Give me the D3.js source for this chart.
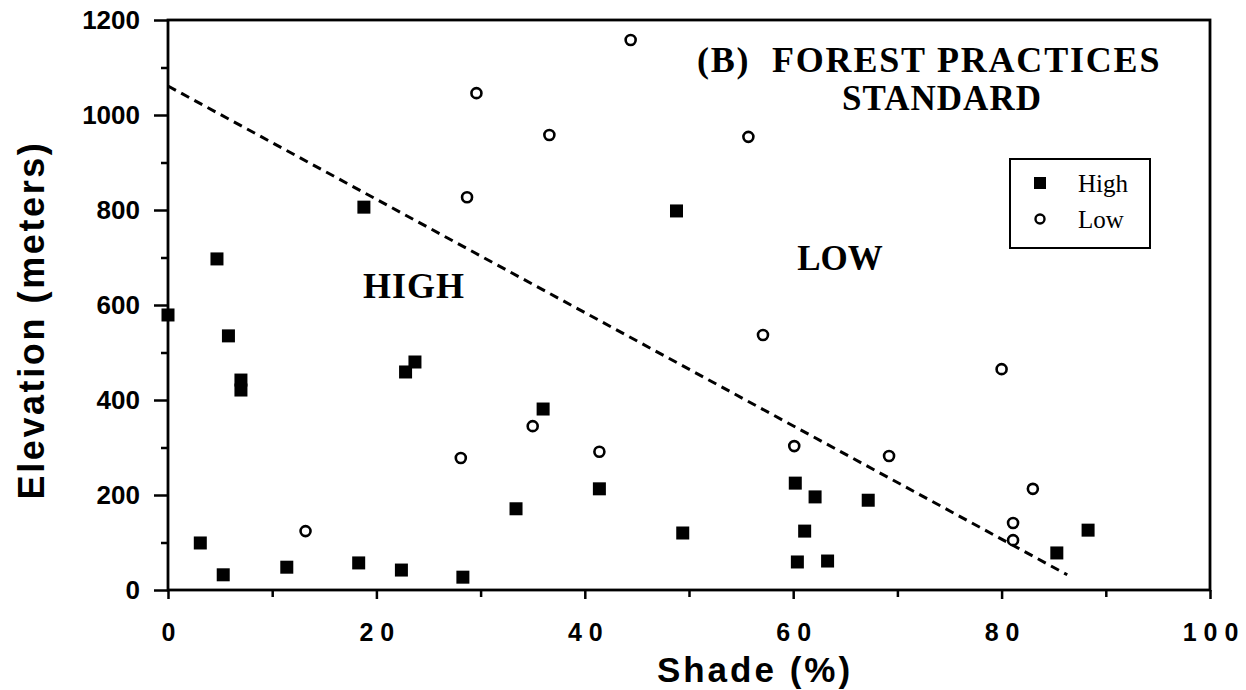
<!DOCTYPE html>
<html><head><meta charset="utf-8">
<script src="https://cdn.jsdelivr.net/npm/d3@7"></script>
<style>
body{margin:0;background:#fff;}
svg{display:block;}
.axis path{display:none;}
.axis line{stroke:#000;stroke-width:2.5px;}
</style></head>
<body><svg id="c" width="1246" height="690"></svg>
<script>
// ---- data ----
const highShade = [0, 4.7, 5.8, 7.0, 7.0, 3.1, 5.3, 11.4, 18.3, 22.4, 28.3, 18.8, 22.8, 23.7, 33.4, 36.0, 41.4, 49.4, 48.8, 60.2, 62.1, 61.1, 60.4, 63.3, 67.2, 85.3, 88.3];
const highElev  = [579, 697, 535, 442, 421, 99, 32, 48, 57, 42, 27, 806, 459, 480, 171, 381, 213, 120, 798, 225, 196, 124, 59, 61, 189, 78, 126];
const lowShade  = [13.2, 28.1, 28.7, 29.6, 36.6, 44.4, 35.0, 41.4, 55.7, 57.1, 60.1, 69.2, 80.0, 83.0, 81.1, 81.1];
const lowElev   = [124, 278, 827, 1046, 958, 1158, 345, 291, 954, 537, 303, 282, 465, 213, 141, 105];
const lineShade = [0, 86.3];
const lineElev  = [1061, 32];
const xTicks = [0, 20, 40, 60, 80, 100];
const xMinor = [10, 30, 50, 70, 90];
const yTicks = [0, 200, 400, 600, 800, 1000, 1200];
const yMinor = [100, 300, 500, 700, 900, 1100];
const legendLabels = ["High", "Low"];

// ---- layout ----
const svg = d3.select("#c");
const L = 168, R = 1210, T = 20, B = 590;
const x = d3.scaleLinear().domain([0, 100]).range([L, R]);
const y = d3.scaleLinear().domain([0, 1200]).range([B, T]);
const sans = "Arial, 'Liberation Sans', sans-serif";
const serif = "'Times New Roman', 'Liberation Serif', serif";

// frame
svg.append("rect").attr("x", L).attr("y", T).attr("width", R - L).attr("height", B - T)
  .attr("fill", "none").attr("stroke", "#000").attr("stroke-width", 2.8);

// y axis
const ya = svg.append("g").attr("class", "axis").attr("transform", `translate(${L},0)`)
  .call(d3.axisLeft(y).tickValues(yTicks).tickSize(14).tickPadding(14).tickFormat(d3.format("d")));
ya.selectAll("text").attr("font-family", sans)
  .attr("font-weight", "bold").attr("font-size", 26).attr("fill", "#000");
svg.append("g").attr("class", "axis").attr("transform", `translate(${L},0)`)
  .call(d3.axisLeft(y).tickValues(yMinor).tickSize(7).tickFormat(""));

// x axis
const xa = svg.append("g").attr("class", "axis").attr("transform", `translate(0,${B})`)
  .call(d3.axisBottom(x).tickValues(xTicks).tickSize(9).tickPadding(24).tickFormat(d => String(d).split("").join(" ")));
xa.selectAll("text").attr("font-family", sans)
  .attr("font-weight", "bold").attr("font-size", 25).attr("fill", "#000").style("white-space", "pre");
svg.append("g").attr("class", "axis").attr("transform", `translate(0,${B})`)
  .call(d3.axisBottom(x).tickValues(xMinor).tickSize(7).tickFormat(""));

// axis titles
svg.append("text").attr("transform", `translate(44,320) rotate(-90)`)
  .attr("text-anchor", "middle").attr("font-family", sans).attr("letter-spacing", 2.6)
  .attr("font-weight", "bold").attr("font-size", 36).text("Elevation (meters)");
svg.append("text").attr("x", 755).attr("y", 682)
  .attr("text-anchor", "middle").attr("font-family", sans).attr("letter-spacing", 3)
  .attr("font-weight", "bold").attr("font-size", 35).style("white-space", "pre").text("Shade (%)");

// dashed line
const lineData = lineShade.map((d, i) => [d, lineElev[i]]);
svg.append("path").datum(lineData)
  .attr("d", d3.line().x(d => x(d[0])).y(d => y(d[1])))
  .attr("fill", "none").attr("stroke", "#000").attr("stroke-width", 3).attr("stroke-dasharray", "9,6");

// points
const sq = 13;
svg.append("g").selectAll("rect").data(highShade.map((d, i) => [d, highElev[i]])).join("rect")
  .attr("x", d => x(d[0]) - sq / 2).attr("y", d => y(d[1]) - sq / 2)
  .attr("width", sq).attr("height", sq).attr("fill", "#000");
svg.append("g").selectAll("circle").data(lowShade.map((d, i) => [d, lowElev[i]])).join("circle")
  .attr("cx", d => x(d[0])).attr("cy", d => y(d[1])).attr("r", 5)
  .attr("fill", "#fff").attr("stroke", "#000").attr("stroke-width", 2.6);

// annotations
svg.append("text").attr("x", 697).attr("y", 72).attr("font-family", serif).attr("font-weight", "bold")
  .attr("font-size", 36).attr("letter-spacing", 1.8).style("white-space", "pre").text("(B)  FOREST PRACTICES");
svg.append("text").attr("x", 942).attr("y", 110).attr("text-anchor", "middle").attr("font-family", serif).attr("font-weight", "bold")
  .attr("font-size", 35).attr("letter-spacing", 1).text("STANDARD");
svg.append("text").attr("x", 414).attr("y", 298).attr("text-anchor", "middle").attr("font-family", serif).attr("font-weight", "bold")
  .attr("font-size", 36).attr("letter-spacing", 1).text("HIGH");
svg.append("text").attr("x", 840).attr("y", 270).attr("text-anchor", "middle").attr("font-family", serif).attr("font-weight", "bold")
  .attr("font-size", 35).text("LOW");

// legend
svg.append("rect").attr("x", 1010).attr("y", 159).attr("width", 140).attr("height", 89)
  .attr("fill", "#fff").attr("stroke", "#000").attr("stroke-width", 2);
svg.append("rect").attr("x", 1040 - 6).attr("y", 183 - 6).attr("width", 12).attr("height", 12).attr("fill", "#000");
svg.append("circle").attr("cx", 1040).attr("cy", 219).attr("r", 4.5).attr("fill", "#fff").attr("stroke", "#000").attr("stroke-width", 2.4);
legendLabels.forEach((t, i) => {
  svg.append("text").attr("x", 1078).attr("y", 192 + i * 36).attr("font-family", serif)
    .attr("font-size", 25).text(t);
});
</script></body></html>
